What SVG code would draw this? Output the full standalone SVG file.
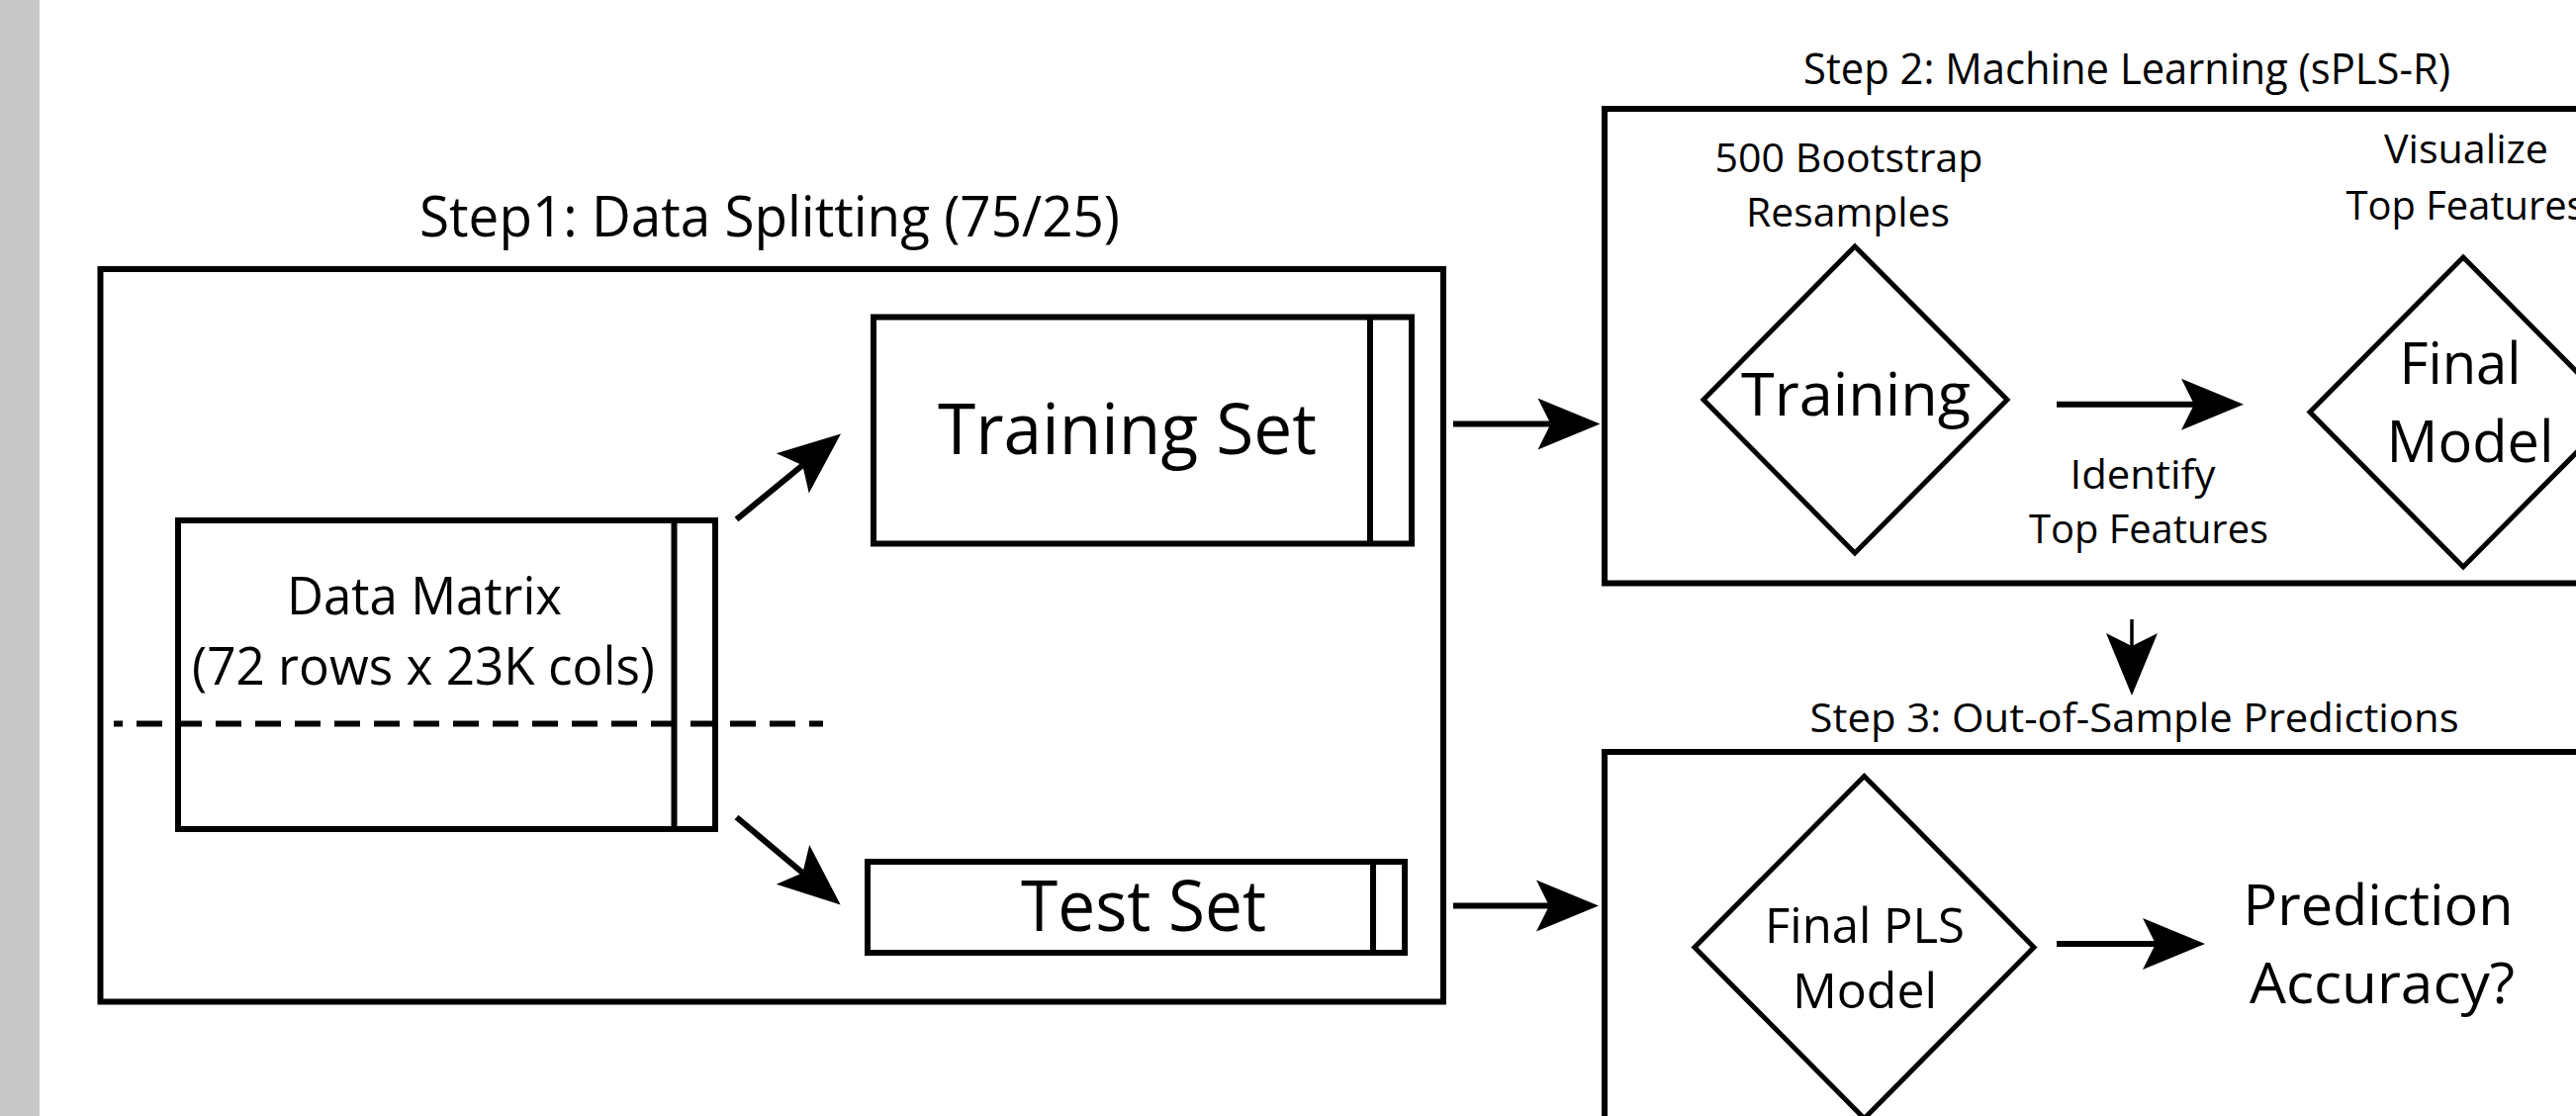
<svg xmlns="http://www.w3.org/2000/svg" width="2604" height="1128" viewBox="0 0 2604 1128">
  <style>
    .box { fill: none; stroke: #000; stroke-width: 6; }
    .dia { fill: none; stroke: #000; stroke-width: 5; stroke-linejoin: miter; }
    .div { stroke: #000; stroke-width: 6; }
    .conn { fill: none; stroke: #000; stroke-width: 6; marker-end: url(#head); }
    .conn.thin { stroke-width: 3.5; }
    .dash { fill: none; stroke: #000; stroke-width: 6; stroke-dasharray: 26 14; stroke-dashoffset: 17; }
    text { font-family: "Open Sans", "Noto Sans", "Liberation Sans", sans-serif; fill: #000; text-anchor: middle; }
  </style>
  <defs>
    <marker id="head" markerUnits="userSpaceOnUse" viewBox="-15 -28 67 56" markerWidth="67" markerHeight="56" refX="0" refY="0" orient="auto">
      <path d="M50,0 L-13,-26 L0,0 L-13,26 Z" fill="#000"/>
    </marker>
  </defs>

  <rect x="0" y="0" width="2604" height="1128" fill="#fff"/>
  <rect x="0" y="0" width="40" height="1128" fill="#c8c8c8"/>

  <!-- Step 1 panel -->
  <g id="step1">
    <text x="778" y="239" font-size="57" textLength="708" lengthAdjust="spacingAndGlyphs">Step1: Data Splitting (75/25)</text>
    <rect class="box" x="101.5" y="272" width="1357.5" height="740.5"/>
  </g>

  <g id="data-matrix">
    <rect class="box" x="180" y="526" width="543" height="312"/>
    <line class="div" x1="681.5" y1="526" x2="681.5" y2="838"/>
    <text x="429" y="621" font-size="53" textLength="278" lengthAdjust="spacingAndGlyphs">Data Matrix</text>
    <text x="428" y="692" font-size="53" textLength="468" lengthAdjust="spacingAndGlyphs">(72 rows x 23K cols)</text>
    <line class="dash" x1="115" y1="731.5" x2="832" y2="731.5"/>
  </g>

  <g id="training-set">
    <rect class="box" x="883" y="320.5" width="544" height="229"/>
    <line class="div" x1="1385" y1="320.5" x2="1385" y2="549.5"/>
    <text x="1139.5" y="459" font-size="71" textLength="383" lengthAdjust="spacingAndGlyphs">Training Set</text>
  </g>

  <g id="test-set">
    <rect class="box" x="877" y="871" width="543" height="92"/>
    <line class="div" x1="1388" y1="871" x2="1388" y2="963"/>
    <text x="1156" y="940.5" font-size="71" textLength="248" lengthAdjust="spacingAndGlyphs">Test Set</text>
  </g>

  <!-- Step 2 panel -->
  <g id="step2">
    <text x="2150" y="85" font-size="44" textLength="654" lengthAdjust="spacingAndGlyphs">Step 2: Machine Learning (sPLS-R)</text>
    <rect class="box" x="1622" y="110" width="1010" height="479.5"/>
    <text x="1869" y="174" font-size="39.5" textLength="271" lengthAdjust="spacingAndGlyphs">500 Bootstrap</text>
    <text x="1868" y="229" font-size="39.5" textLength="206" lengthAdjust="spacingAndGlyphs">Resamples</text>
    <text x="2166" y="493.7" font-size="39.5" textLength="147" lengthAdjust="spacingAndGlyphs">Identify</text>
    <text x="2172" y="549" font-size="39.5" textLength="242" lengthAdjust="spacingAndGlyphs">Top Features</text>
    <text x="2493" y="165" font-size="39.5" textLength="166" lengthAdjust="spacingAndGlyphs">Visualize</text>
    <text x="2492.6" y="222" font-size="39.5" textLength="242" lengthAdjust="spacingAndGlyphs">Top Features</text>
  </g>

  <g id="training">
    <polygon class="dia" points="1875,249 2029,404 1875,559 1722,404"/>
    <text x="1876" y="420" font-size="60" textLength="232" lengthAdjust="spacingAndGlyphs">Training</text>
  </g>

  <g id="final-model">
    <polygon class="dia" points="2490,260 2645,416.5 2490,573 2335,416.5"/>
    <text x="2487" y="388.4" font-size="59" textLength="123" lengthAdjust="spacingAndGlyphs">Final</text>
    <text x="2497" y="467" font-size="59" textLength="169" lengthAdjust="spacingAndGlyphs">Model</text>
  </g>

  <!-- Step 3 panel -->
  <g id="step3">
    <text x="2157.6" y="740" font-size="39.5" textLength="656" lengthAdjust="spacingAndGlyphs">Step 3: Out-of-Sample Predictions</text>
    <rect class="box" x="1622" y="760" width="1010" height="420"/>
  </g>

  <g id="final-pls-model">
    <polygon class="dia" points="1884.5,784.5 2056,957.5 1884.5,1130.5 1713,957.5"/>
    <text x="1885" y="953" font-size="50" textLength="202" lengthAdjust="spacingAndGlyphs">Final PLS</text>
    <text x="1885" y="1019" font-size="50" textLength="146" lengthAdjust="spacingAndGlyphs">Model</text>
  </g>

  <g id="prediction-accuracy">
    <text x="2404" y="935" font-size="56" textLength="273" lengthAdjust="spacingAndGlyphs">Prediction</text>
    <text x="2408" y="1013.5" font-size="56" textLength="268" lengthAdjust="spacingAndGlyphs">Accuracy?</text>
  </g>

  <!-- Connectors -->
  <g id="connectors">
    <line class="conn" x1="744.5" y1="525" x2="811.3" y2="470.2"/>
    <line class="conn" x1="744.5" y1="826" x2="811.4" y2="882.3"/>
    <line class="conn" x1="1469" y1="428.6" x2="1567.5" y2="428.6"/>
    <line class="conn" x1="1469" y1="915.5" x2="1566" y2="915.5"/>
    <line class="conn" x1="2079" y1="408.7" x2="2218" y2="408.7"/>
    <line class="conn thin" x1="2155" y1="626" x2="2155" y2="653"/>
    <line class="conn" x1="2079" y1="954" x2="2179" y2="954"/>
  </g>
</svg>
